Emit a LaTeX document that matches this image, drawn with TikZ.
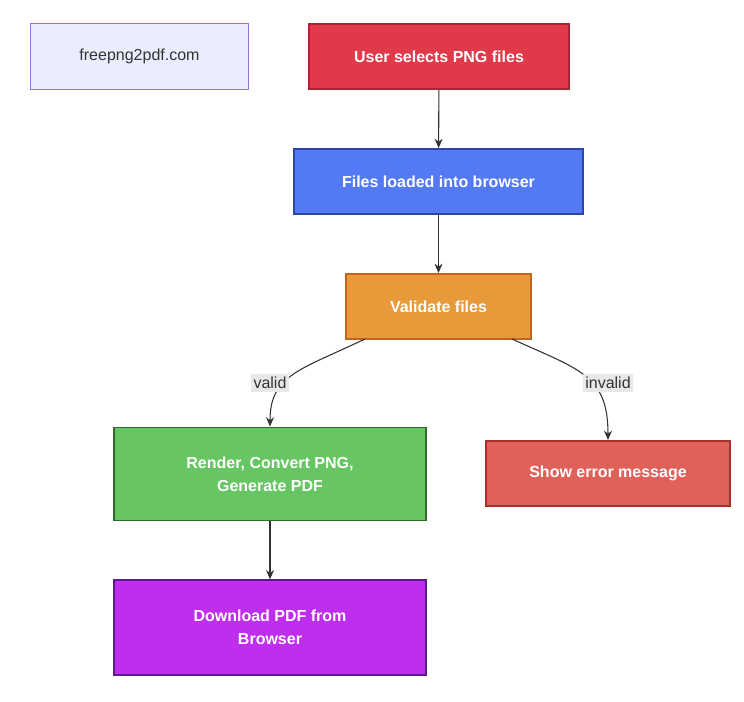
\documentclass[tikz,border=0pt]{standalone}
\usepackage{fontspec}
\setmainfont{Liberation Sans}
\usetikzlibrary{arrows.meta}
\definecolor{cNote}{HTML}{ECECFF}
\definecolor{cNoteB}{HTML}{9370DB}
\definecolor{cUser}{HTML}{E0394A}
\definecolor{cUserB}{HTML}{A8262F}
\definecolor{cLoad}{HTML}{5479F5}
\definecolor{cLoadB}{HTML}{2C46A8}
\definecolor{cVal}{HTML}{E89A3A}
\definecolor{cValB}{HTML}{C2641D}
\definecolor{cConv}{HTML}{67C563}
\definecolor{cConvB}{HTML}{2F6A2B}
\definecolor{cErr}{HTML}{E0605A}
\definecolor{cErrB}{HTML}{A8302A}
\definecolor{cDown}{HTML}{BF2EEE}
\definecolor{cDownB}{HTML}{5A1A8A}
\definecolor{cLbl}{HTML}{E8E8E8}
\definecolor{cLine}{HTML}{333333}

\begin{document}
\begin{tikzpicture}[x=0.75pt,y=-0.75pt,
  stage/.style={draw, line width=1.2pt, text=white, font=\bfseries\fontsize{12}{17}\selectfont,
    align=center, inner sep=0pt},
  flow/.style={draw=cLine, line width=0.8pt, -{Stealth[length=7pt,width=6pt]}},
  tag/.style={fill=cLbl, font=\fontsize{12}{14}\selectfont, text=cLine, inner sep=2pt}]
  \useasboundingbox (0,0) rectangle (744,702);

  \node (site) at (139.5,56.5) [stage, fill=cNote, draw=cNoteB, text=black!80, font=\fontsize{12}{14}\selectfont,
    minimum width=164pt, minimum height=49pt, line width=0.6pt] {freepng2pdf.com};
  \node (user) at (439,56.5) [stage, fill=cUser, draw=cUserB, minimum width=195pt, minimum height=49pt] {User selects PNG files};
  \node (load) at (438.5,181.5) [stage, fill=cLoad, draw=cLoadB, minimum width=217pt, minimum height=49pt] {Files loaded into browser};
  \node (val) at (438.5,306.5) [stage, fill=cVal, draw=cValB, minimum width=139pt, minimum height=49pt] {Validate files};
  \node (conv) at (270,474) [stage, fill=cConv, draw=cConvB, minimum width=234pt, minimum height=70pt] {Render, Convert PNG,\\ Generate PDF};
  \node (err) at (608,473.5) [stage, fill=cErr, draw=cErrB, minimum width=183pt, minimum height=49pt] {Show error message};
  \node (down) at (270,627.5) [stage, fill=cDown, draw=cDownB, minimum width=234pt, minimum height=71pt] {Download PDF from\\ Browser};

  \coordinate (vl) at (365,339);
  \coordinate (vr) at (512,339);

  \draw [flow] (user) -- (load);
  \draw [flow] (load) -- (val);
  \draw [flow] (vl) .. controls (300,370) and (270,375) .. (conv.north);
  \draw [flow] (vr) .. controls (580,370) and (608,375) .. (err.north);
  \draw [flow] (conv) -- (down);

  \node (lv) at (270,383) [tag] {valid};
  \node (li) at (608,383) [tag] {invalid};
\end{tikzpicture}
\end{document}
